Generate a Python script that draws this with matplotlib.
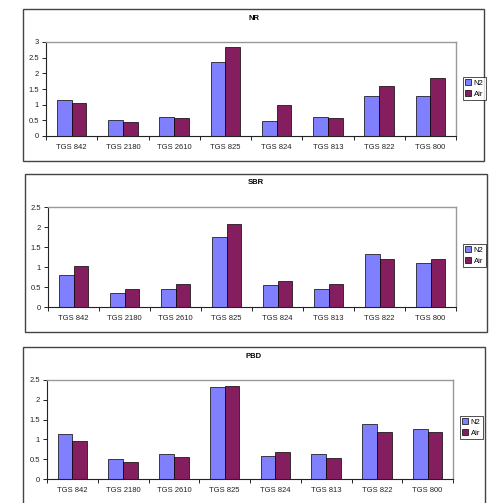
import matplotlib
matplotlib.use("Agg")
import matplotlib.pyplot as plt
from matplotlib.patches import Rectangle
import numpy as np

plt.rcParams['font.family'] = ['Liberation Sans', 'DejaVu Sans']

categories = ["TGS 842", "TGS 2180", "TGS 2610", "TGS 825", "TGS 824", "TGS 813", "TGS 822", "TGS 800"]
series_names = ["N2", "Air"]

nr_n2 = [1.16, 0.50, 0.62, 2.35, 0.47, 0.62, 1.29, 1.29]
nr_air = [1.04, 0.44, 0.59, 2.85, 1.00, 0.59, 1.61, 1.85]

sbr_n2 = [0.79, 0.36, 0.46, 1.76, 0.54, 0.44, 1.32, 1.10]
sbr_air = [1.03, 0.46, 0.585, 2.08, 0.65, 0.57, 1.21, 1.20]

pbd_n2 = [1.14, 0.50, 0.62, 2.32, 0.59, 0.64, 1.39, 1.26]
pbd_air = [0.965, 0.44, 0.55, 2.35, 0.69, 0.54, 1.19, 1.18]

titles = ["NR", "SBR", "PBD"]
ymaxes = [3, 2.5, 2.5]
yticks = [[0, 0.5, 1, 1.5, 2, 2.5, 3], [0, 0.5, 1, 1.5, 2, 2.5], [0, 0.5, 1, 1.5, 2, 2.5]]
ytick_labels = [["0", "0.5", "1", "1.5", "2", "2.5", "3"], ["0", "0.5", "1", "1.5", "2", "2.5"], ["0", "0.5", "1", "1.5", "2", "2.5"]]
data = [(nr_n2, nr_air), (sbr_n2, sbr_air), (pbd_n2, pbd_air)]

W, H = 494, 503
fig = plt.figure(figsize=(W / 100, H / 100), dpi=100)

def fx(x):
    return x / W

def fy(y):
    return 1 - y / H

# layout in pixels: frame (x0, y0, x1, y1), axes (x0, y0, x1, y1), legend (x0, y0), title y
frames = [(23, 9, 484, 161), (25, 174, 487, 332), (23, 347, 485, 515)]
axes_px = [(46, 42, 456, 136), (48, 207, 456, 307), (47, 380, 453, 479)]
legend_px = [(463, 77), (463, 244), (460, 416)]
title_y = [19, 183, 356]

c_n2 = "#8080FF"
c_air = "#851E5E"
bw = 0.29

for i in range(3):
    fx0, fy0, fx1, fy1 = frames[i]
    fig.patches.append(Rectangle((fx(fx0), fy(fy1)), fx(fx1 - fx0), (fy1 - fy0) / H,
                                 transform=fig.transFigure, fill=False,
                                 edgecolor="#444444", linewidth=1.0))
    ax0, ay0, ax1, ay1 = axes_px[i]
    ax = fig.add_axes([fx(ax0), fy(ay1), fx(ax1 - ax0), (ay1 - ay0) / H])
    x = np.arange(len(categories))
    n2, air = data[i]
    b1 = ax.bar(x - bw / 2, n2, bw, color=c_n2, edgecolor="black", linewidth=0.5, label=series_names[0])
    b2 = ax.bar(x + bw / 2, air, bw, color=c_air, edgecolor="black", linewidth=0.5, label=series_names[1])
    ax.set_xlim(-0.5, len(categories) - 0.5)
    ax.set_ylim(0, ymaxes[i])
    ax.set_yticks(yticks[i])
    ax.set_yticklabels(ytick_labels[i], fontsize=5.5, color="#222222")
    ax.set_xticks(x)
    ax.set_xticklabels(categories, fontsize=5.5, color="#222222")
    ax.set_xticks(np.arange(len(categories) + 1) - 0.5, minor=True)
    ax.tick_params(axis='x', which='major', length=0, pad=6)
    ax.tick_params(axis='x', which='minor', length=3, width=0.6, direction='out')
    ax.tick_params(axis='y', length=3, width=0.6, direction='out', pad=2)
    for s in ['top', 'right']:
        ax.spines[s].set_color("#999999")
        ax.spines[s].set_linewidth(1.0)
    for s in ['left', 'bottom']:
        ax.spines[s].set_color("#222222")
        ax.spines[s].set_linewidth(0.8)
    fig.text(fx((fx0 + fx1) / 2), fy(title_y[i]), titles[i], ha='center', va='center',
             fontsize=5.5, fontweight='bold')
    lx, ly = legend_px[i]
    leg = fig.legend(handles=[b1, b2], labels=series_names, loc='upper left',
                     bbox_to_anchor=(fx(lx), fy(ly)), fontsize=5.5, frameon=True,
                     fancybox=False, handlelength=0.8, handleheight=0.8,
                     handletextpad=0.3, borderpad=0.3, labelspacing=0.45,
                     borderaxespad=0)
    leg.get_frame().set_edgecolor("black")
    leg.get_frame().set_linewidth(0.6)

fig.savefig("out.png", dpi=100)
